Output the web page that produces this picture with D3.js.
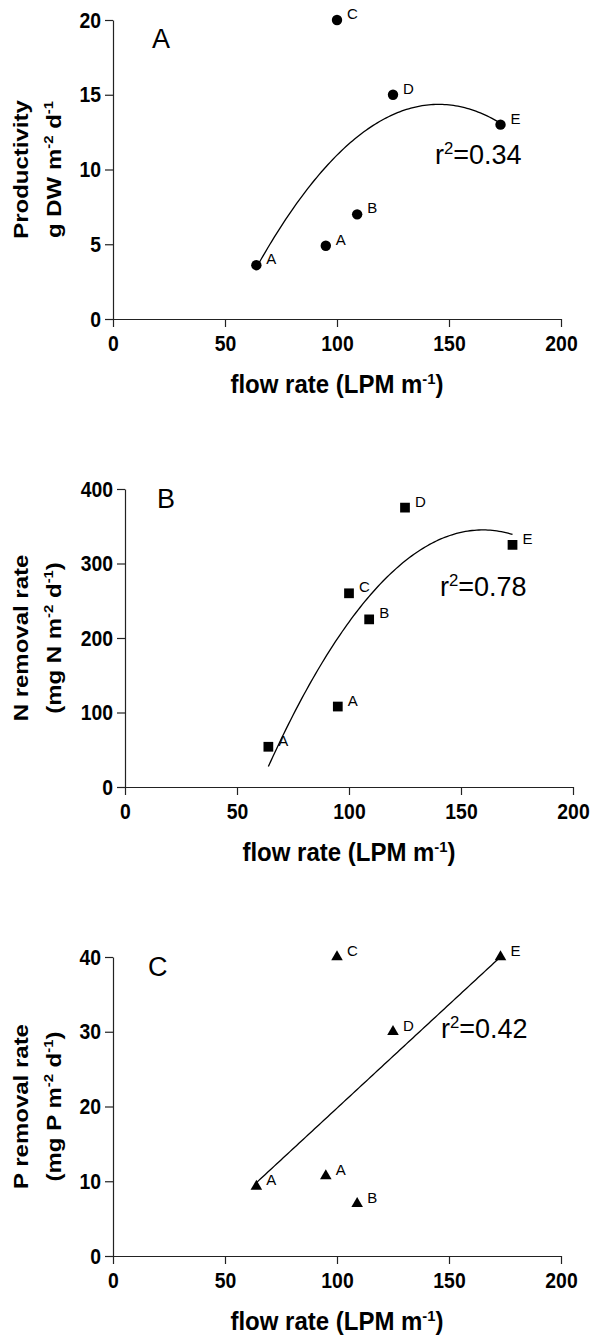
<!DOCTYPE html>
<html>
<head>
<meta charset="utf-8">
<script src="https://cdn.jsdelivr.net/npm/d3@7"></script>
<style>
  body { margin: 0; background: #fff; }
  svg { display: block; }
</style>
</head>
<body>
<div id="chart"></div>
<script>
// data
const flowRate = [64, 95, 109, 100, 125, 173];
const pointLabels = ["A", "A", "B", "C", "D", "E"];
const productivity = [3.6, 4.9, 7, 20, 15, 13];
const nRemoval = [54, 108, 225, 260, 375, 325];
const pRemoval = [9.3, 10.7, 7, 40, 30, 40];
const xTicks = [0, 50, 100, 150, 200];
const prodTicks = [0, 5, 10, 15, 20];
const nTicks = [0, 100, 200, 300, 400];
const pTicks = [0, 10, 20, 30, 40];
const panelLetters = ["A", "B", "C"];
const r2Values = ["0.34", "0.78", "0.42"];

const width = 593;
const height = 1337;
const FONT = "'Liberation Sans', Arial, Helvetica, sans-serif";
const SQUEEZE = 0.88; // bold labels in the figure look a bit condensed

const svg = d3.select("#chart")
    .append("svg")
    .attr("width", width)
    .attr("height", height)
    .style("background", "#fff");

// layout per panel (pixel frame, label spots)
const panels = [
    {
        values: productivity, ticks: prodTicks, order: 2, symbol: d3.symbolCircle, symSize: 85,
        frame: { left: 113, right: 561, top: 20, bottom: 319 },
        letterAt: [152, 48], r2At: [435, 164],
        title: [
            [{ t: "Productivity" }],
            [{ t: "g DW m" }, { t: "-2", sup: true }, { t: " d" }, { t: "-1", sup: true }]
        ]
    },
    {
        values: nRemoval, ticks: nTicks, order: 2, symbol: d3.symbolSquare, symSize: 95,
        frame: { left: 125, right: 573, top: 489, bottom: 787 },
        letterAt: [157, 508], r2At: [440, 596],
        title: [
            [{ t: "N removal rate" }],
            [{ t: "(mg N m" }, { t: "-2", sup: true }, { t: " d" }, { t: "-1", sup: true }, { t: ")" }]
        ]
    },
    {
        values: pRemoval, ticks: pTicks, order: 1, symbol: d3.symbolTriangle, symSize: 58,
        frame: { left: 113, right: 561, top: 957, bottom: 1256 },
        letterAt: [148, 976], r2At: [441, 1038],
        title: [
            [{ t: "P removal rate" }],
            [{ t: "(mg P m" }, { t: "-2", sup: true }, { t: " d" }, { t: "-1", sup: true }, { t: ")" }]
        ]
    }
];

// least squares polynomial fit (normal equations)
function polyfit(xs, ys, order) {
    const n = order + 1;
    const A = [];
    const b = [];
    for (let i = 0; i < n; i++) {
        A.push([]);
        for (let j = 0; j < n; j++) A[i].push(d3.sum(xs, x => Math.pow(x, i + j)));
        b.push(d3.sum(xs, (x, k) => ys[k] * Math.pow(x, i)));
    }
    for (let c = 0; c < n; c++) {
        for (let r = c + 1; r < n; r++) {
            const f = A[r][c] / A[c][c];
            for (let k = c; k < n; k++) A[r][k] -= f * A[c][k];
            b[r] -= f * b[c];
        }
    }
    const coef = new Array(n).fill(0);
    for (let r = n - 1; r >= 0; r--) {
        let s = b[r];
        for (let k = r + 1; k < n; k++) s -= A[r][k] * coef[k];
        coef[r] = s / A[r][r];
    }
    return x => coef.reduce((acc, c, i) => acc + c * Math.pow(x, i), 0);
}

// text with superscript pieces
function richText(sel, parts, size) {
    let raised = false;
    parts.forEach(p => {
        if (p.sup) {
            sel.append("tspan").attr("font-size", size * 0.62).attr("dy", -size * 0.38).text(p.t);
            raised = true;
        } else {
            const ts = sel.append("tspan").attr("font-size", size).text(p.t);
            if (raised) ts.attr("dy", size * 0.38);
            raised = false;
        }
    });
}

panels.forEach((p, pi) => {
    const f = p.frame;
    const x = d3.scaleLinear().domain([0, 200]).range([f.left, f.right]);
    const yMax = p.ticks[p.ticks.length - 1];
    const y = d3.scaleLinear().domain([0, yMax]).range([f.bottom, f.top]);

    const g = svg.append("g");

    // axes
    const xAxis = g.append("g")
        .attr("transform", `translate(0,${f.bottom})`)
        .call(d3.axisBottom(x).tickValues(xTicks).tickSize(8).tickSizeOuter(0).tickPadding(8));
    const yAxis = g.append("g")
        .attr("transform", `translate(${f.left},0)`)
        .call(d3.axisLeft(y).tickValues(p.ticks).tickSize(8).tickSizeOuter(0).tickPadding(4));

    [xAxis, yAxis].forEach(ax => {
        ax.attr("font-family", null).attr("font-size", null);
        ax.selectAll("path.domain, line").attr("stroke", "#222").attr("stroke-width", 1.2);
        ax.selectAll("text")
            .attr("fill", "#000")
            .style("font-family", FONT)
            .style("font-weight", "bold")
            .style("font-size", "22px");
    });
    xAxis.selectAll("text").attr("transform", `scale(${SQUEEZE},1)`);
    yAxis.selectAll("text")
        .attr("x", -12 / SQUEEZE)
        .attr("transform", `scale(${SQUEEZE},1)`);

    // fit curve
    const fit = polyfit(flowRate, p.values, p.order);
    const xs = d3.range(d3.min(flowRate), d3.max(flowRate) + 0.01, 1);
    g.append("path")
        .datum(xs)
        .attr("fill", "none")
        .attr("stroke", "#000")
        .attr("stroke-width", 1.3)
        .attr("d", d3.line().x(v => x(v)).y(v => y(fit(v))));

    // markers
    const pts = flowRate.map((fr, i) => ({ fr, v: p.values[i], lab: pointLabels[i] }));
    g.selectAll(".pt")
        .data(pts)
        .enter().append("path")
        .attr("class", "pt")
        .attr("transform", d => `translate(${x(d.fr)},${y(d.v)})`)
        .attr("d", d3.symbol().type(p.symbol).size(p.symSize))
        .attr("fill", "#000");

    g.selectAll(".pl")
        .data(pts)
        .enter().append("text")
        .attr("class", "pl")
        .attr("x", d => x(d.fr) + 10)
        .attr("y", d => y(d.v) - 1)
        .style("font-family", FONT)
        .style("font-size", "15px")
        .text(d => d.lab);

    // panel letter
    g.append("text")
        .attr("x", p.letterAt[0])
        .attr("y", p.letterAt[1])
        .style("font-family", FONT)
        .style("font-size", "27px")
        .text(panelLetters[pi]);

    // r squared
    const r2 = g.append("text")
        .attr("x", p.r2At[0])
        .attr("y", p.r2At[1])
        .style("font-family", FONT);
    richText(r2, [{ t: "r" }, { t: "2", sup: true }, { t: "=" + r2Values[pi] }], 27);

    // x title
    const xt = g.append("text")
        .attr("transform", `translate(${(f.left + f.right) / 2},${f.bottom + 74}) scale(0.96,1)`)
        .attr("text-anchor", "middle")
        .style("font-family", FONT)
        .style("font-weight", "bold");
    richText(xt, [{ t: "flow rate (LPM m" }, { t: "-1", sup: true }, { t: ")" }], 25);

    // y title, two rotated lines
    const cy = (f.top + f.bottom) / 2;
    [28, 61].forEach((bx, li) => {
        const yt = g.append("text")
            .attr("transform", `translate(${bx},${cy}) scale(${SQUEEZE},1) rotate(-90)`)
            .attr("text-anchor", "middle")
            .style("font-family", FONT)
            .style("font-weight", "bold");
        richText(yt, p.title[li], 24);
    });
});
</script>
</body>
</html>
